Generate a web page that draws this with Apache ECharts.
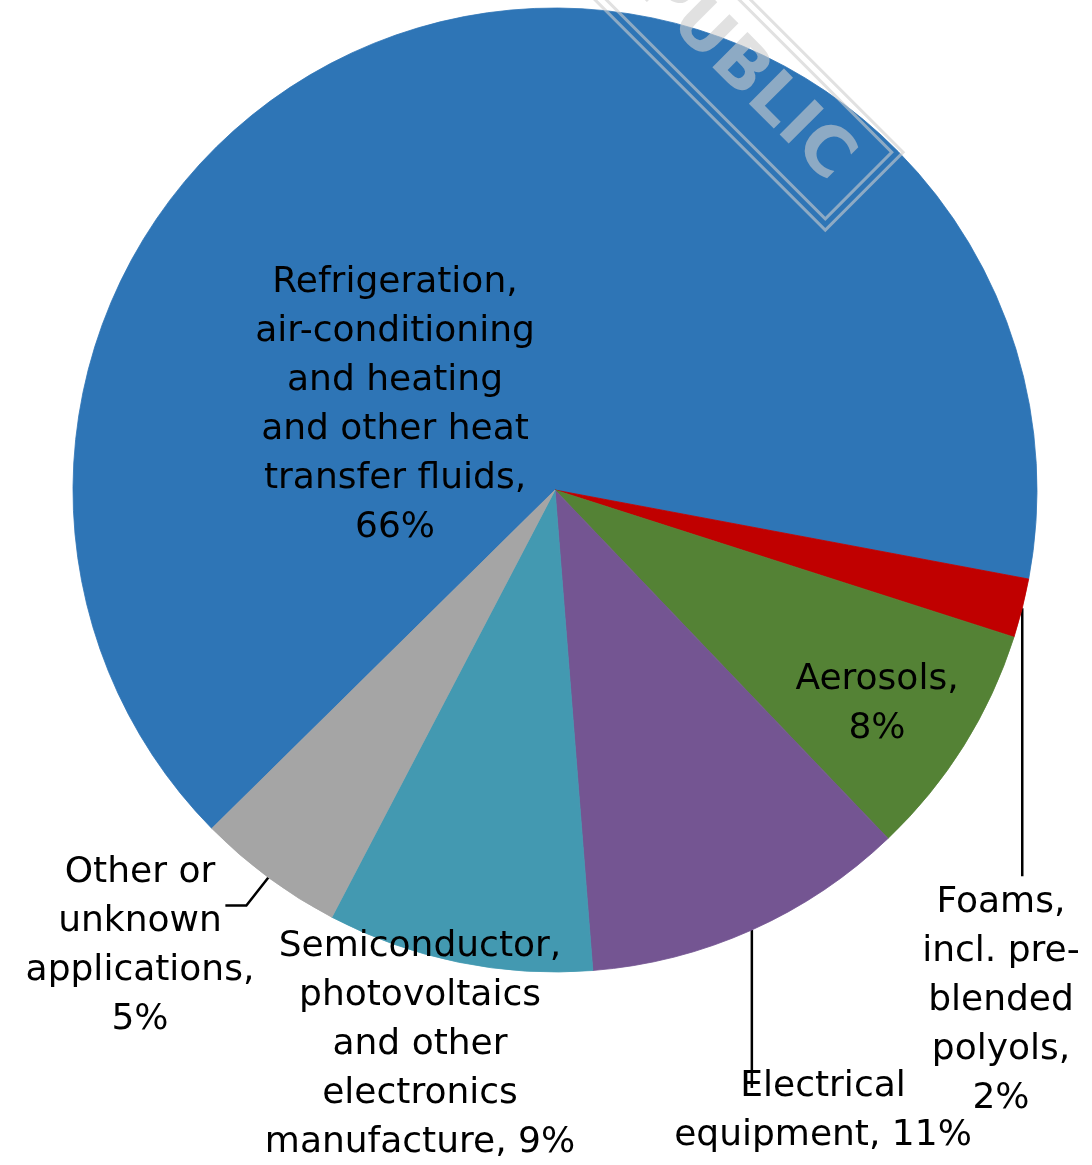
<!DOCTYPE html>
<html>
<head>
<meta charset="utf-8">
<script src="https://cdn.jsdelivr.net/npm/echarts@6/dist/echarts.min.js"></script>
<style>
  html, body { margin: 0; padding: 0; background: #ffffff; }
  #chart { width: 1092px; height: 1165px; }
</style>
</head>
<body>
<div id="chart"></div>
<script>
// HFC use by application, share in percent (clockwise from lower left)
const categories = [
  'Refrigeration,\nair-conditioning\nand heating\nand other heat\ntransfer fluids',
  'Foams,\nincl. pre-\nblended\npolyols',
  'Aerosols',
  'Electrical\nequipment',
  'Semiconductor,\nphotovoltaics\nand other\nelectronics\nmanufacture',
  'Other or\nunknown\napplications'
];
const shares = [66, 2, 8, 11, 9, 5];
const sliceColors = ['#2E75B6', '#C00000', '#548235', '#745592', '#4399B1', '#A5A5A5'];
// whether the percentage follows on the same line as the name
const valueOnSameLine = [false, false, false, true, true, false];

// label anchor (centre of text block) and leader shape, as offsets from the slice edge
const labelPlacement = [
  { x: 395, y: 405, inside: true },
  { x: 1001, y: 1001, leader: [[0, 0], [0, 268]] },
  { x: 877, y: 704, inside: true },
  { x: 823, y: 1111, leader: [[0, 0], [0, 158]] },
  { x: 420, y: 1045 },
  { x: 140, y: 946, leader: [[0, 0], [-22, 28], [-43, 28]] }
];

const chart = echarts.init(document.getElementById('chart'), null, { renderer: 'canvas' });

const seriesData = categories.map((name, i) => {
  const p = labelPlacement[i];
  return {
    name: name,
    value: shares[i],
    itemStyle: { color: sliceColors[i], borderColor: sliceColors[i], borderWidth: 0.8 },
    label: { position: p.inside ? 'inside' : 'outside' },
    labelLine: { show: !!p.leader }
  };
});

const stampColor = 'rgba(205,205,205,0.6)';

chart.setOption({
  animation: false,
  backgroundColor: '#ffffff',
  series: [{
    type: 'pie',
    center: [555, 490],
    radius: 482,
    startAngle: 224.6,
    clockwise: true,
    avoidLabelOverlap: false,
    silent: true,
    label: {
      show: true,
      color: '#000000',
      fontFamily: 'DejaVu Sans',
      fontSize: 36,
      lineHeight: 49,
      align: 'center',
      formatter: function (p) {
        const sep = valueOnSameLine[p.dataIndex] ? ', ' : ',\n';
        return p.name + sep + p.value + '%';
      }
    },
    labelLine: {
      length: 20,
      length2: 10,
      lineStyle: { color: '#000000', width: 2.5 }
    },
    labelLayout: function (p) {
      const cfg = labelPlacement[p.dataIndex];
      const out = { x: cfg.x, y: cfg.y, align: 'center', verticalAlign: 'middle' };
      const pts = p.labelLinePoints;
      if (cfg.leader && pts && pts.length) {
        const e = pts[0];
        out.labelLinePoints = cfg.leader.map(d => [e[0] + d[0], e[1] + d[1]]);
      }
      return out;
    },
    data: seriesData
  }],
  // classification stamp, rotated and running off the top edge
  graphic: [{
    type: 'group',
    x: 756,
    y: 83,
    rotation: -Math.PI / 4,
    zlevel: 5,
    z: 100,
    silent: true,
    children: [
      {
        type: 'rect',
        zlevel: 5, z: 100,
        shape: { x: -260, y: -55, width: 413, height: 110 },
        style: { fill: 'none', stroke: stampColor, lineWidth: 3 }
      },
      {
        type: 'rect',
        zlevel: 5, z: 100,
        shape: { x: -252, y: -47, width: 397, height: 94 },
        style: { fill: 'none', stroke: stampColor, lineWidth: 3 }
      },
      {
        type: 'text',
        zlevel: 5, z: 100,
        style: {
          text: 'PUBLIC',
          x: 122,
          y: 2,
          textAlign: 'right',
          textVerticalAlign: 'middle',
          align: 'right',
          verticalAlign: 'middle',
          font: 'bold 68px "DejaVu Sans"',
          fill: stampColor
        }
      }
    ]
  }]
});
</script>
</body>
</html>
